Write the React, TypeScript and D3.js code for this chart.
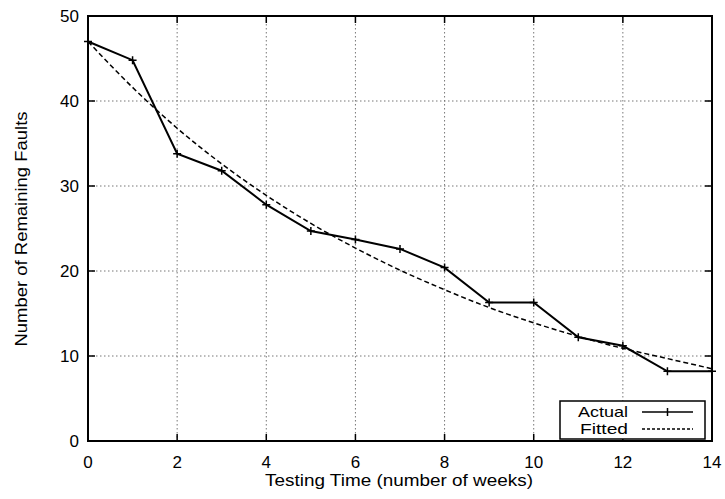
import React from "react";
import { scaleLinear, line, curveMonotoneX } from "d3";

const weeks = [0, 1, 2, 3, 4, 5, 6, 7, 8, 9, 10, 11, 12, 13, 14];
const actualFaults = [47, 44.8, 33.8, 31.8, 27.8, 24.7, 23.7, 22.6, 20.4, 16.3, 16.3, 12.2, 11.2, 8.2, 8.2];
const fittedFaults = [47, 41.6, 36.8, 32.6, 28.9, 25.6, 22.7, 20.1, 17.8, 15.7, 13.9, 12.3, 10.9, 9.7, 8.5];
const xTicks = [0, 2, 4, 6, 8, 10, 12, 14];
const yTicks = [0, 10, 20, 30, 40, 50];

export default function App() {
  const width = 725,
    height = 499;
  const margin = { top: 16, right: 13, bottom: 58, left: 88 };
  const innerWidth = width - margin.left - margin.right;
  const innerHeight = height - margin.top - margin.bottom;

  const xScale = scaleLinear().domain([0, 14]).range([0, innerWidth]);
  const yScale = scaleLinear().domain([0, 50]).range([innerHeight, 0]);

  const actual = weeks.map((w, i) => [w, actualFaults[i]] as [number, number]);
  const fitted = weeks.map((w, i) => [w, fittedFaults[i]] as [number, number]);

  const straight = line<[number, number]>()
    .x(d => xScale(d[0]))
    .y(d => yScale(d[1]));
  const smooth = line<[number, number]>()
    .x(d => xScale(d[0]))
    .y(d => yScale(d[1]))
    .curve(curveMonotoneX);

  const font = "'Liberation Sans', Arial, Helvetica, sans-serif";
  const legendX = 560 - margin.left,
    legendY = 401 - margin.top;

  return (
    <svg width={width} height={height} style={{ position: "absolute", left: 0, top: 0, background: "#fff" }} fontFamily={font}>
      <g transform={`translate(${margin.left}, ${margin.top})`}>
        {/* grid */}
        {xTicks.slice(1, -1).map(t => (
          <line key={"gx" + t} x1={xScale(t)} x2={xScale(t)} y1={0} y2={innerHeight}
            stroke="#777" strokeWidth={1} strokeDasharray="1.5,2.5" />
        ))}
        {yTicks.slice(1, -1).map(t => (
          <line key={"gy" + t} x1={0} x2={innerWidth} y1={yScale(t)} y2={yScale(t)}
            stroke="#777" strokeWidth={1} strokeDasharray="1.5,2.5" />
        ))}

        {/* ticks */}
        {xTicks.map(t => (
          <g key={"tx" + t}>
            <line x1={xScale(t)} x2={xScale(t)} y1={innerHeight} y2={innerHeight - 7} stroke="#000" strokeWidth={1.5} />
            <line x1={xScale(t)} x2={xScale(t)} y1={0} y2={7} stroke="#000" strokeWidth={1.5} />
            <text x={xScale(t)} y={innerHeight + 27} textAnchor="middle" fontSize={17}>{t}</text>
          </g>
        ))}
        {yTicks.map(t => (
          <g key={"ty" + t}>
            <line x1={0} x2={7} y1={yScale(t)} y2={yScale(t)} stroke="#000" strokeWidth={1.5} />
            <line x1={innerWidth} x2={innerWidth - 7} y1={yScale(t)} y2={yScale(t)} stroke="#000" strokeWidth={1.5} />
            <text x={-9} y={yScale(t)} dy="0.35em" textAnchor="end" fontSize={17}>{t}</text>
          </g>
        ))}

        {/* series */}
        <path d={smooth(fitted) ?? ""} fill="none" stroke="#000" strokeWidth={1.5} strokeDasharray="5,3" />
        <path d={straight(actual) ?? ""} fill="none" stroke="#000" strokeWidth={2} />
        {actual.map(d => (
          <path key={"m" + d[0]}
            d={`M${xScale(d[0]) - 4},${yScale(d[1])}h8M${xScale(d[0])},${yScale(d[1]) - 4}v8`}
            stroke="#000" strokeWidth={1.5} />
        ))}

        {/* frame */}
        <rect x={0} y={0} width={innerWidth} height={innerHeight} fill="none" stroke="#000" strokeWidth={2} />

        {/* legend */}
        <g transform={`translate(${legendX}, ${legendY})`}>
          <rect x={0} y={0} width={145} height={38} fill="#fff" stroke="#000" strokeWidth={1.5} />
          <text x={68} y={10.5} dy="0.35em" textAnchor="end" fontSize={15} textLength={50} lengthAdjust="spacingAndGlyphs">Actual</text>
          <text x={68} y={28} dy="0.35em" textAnchor="end" fontSize={15} textLength={48} lengthAdjust="spacingAndGlyphs">Fitted</text>
          <line x1={82} x2={133} y1={11} y2={11} stroke="#000" strokeWidth={1.5} />
          <path d="M107.5,7v8" stroke="#000" strokeWidth={1.5} />
          <line x1={82} x2={133} y1={28} y2={28} stroke="#000" strokeWidth={1.5} strokeDasharray="3,2" />
        </g>
      </g>

      {/* axis titles */}
      <text x={399} y={486} textAnchor="middle" fontSize={16.5} textLength={268} lengthAdjust="spacingAndGlyphs">
        Testing Time (number of weeks)
      </text>
      <text transform="translate(27, 229) rotate(-90)" textAnchor="middle" fontSize={16.5} textLength={235} lengthAdjust="spacingAndGlyphs">
        Number of Remaining Faults
      </text>
    </svg>
  );
}
